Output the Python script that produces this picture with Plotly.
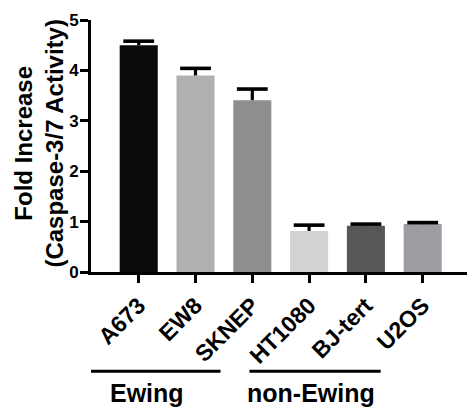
import plotly.graph_objects as go

cell_lines = ["A673", "EW8", "SKNEP", "HT1080", "BJ-tert", "U2OS"]
fold_increase = [4.50, 3.90, 3.41, 0.815, 0.92, 0.95]
error_sem = [0.08, 0.14, 0.22, 0.115, 0.03, 0.03]
bar_colors = ["#0a0c0c", "#b0b0b0", "#8e8e8c", "#d3d3d3", "#575757", "#9d9ca0"]
y_ticks = [0, 1, 2, 3, 4, 5]
groups = ["Ewing", "non-Ewing"]
group_spans = [(-0.88, 1.44), (1.95, 4.26)]
group_label_x = [0.14, 3.04]

FONT = "Liberation Sans, Arial, Helvetica, sans-serif"
idx = list(range(len(cell_lines)))
tops = [v + e for v, e in zip(fold_increase, error_sem)]

fig = go.Figure()
fig.add_trace(go.Bar(
    x=idx, y=fold_increase, width=0.67,
    marker=dict(color=bar_colors, line=dict(width=0)),
    error_y=dict(type="data", symmetric=False, array=error_sem,
                 arrayminus=[0] * len(idx), width=0, thickness=3.2, color="black"),
    showlegend=False,
))
fig.add_trace(go.Scatter(
    x=idx, y=tops, mode="markers",
    marker=dict(symbol="line-ew-open", size=22, color="black",
                line=dict(width=3.6, color="black")),
    showlegend=False, hoverinfo="skip",
))

for name, (x0, x1), lx in zip(groups, group_spans, group_label_x):
    fig.add_shape(type="line", xref="x", yref="paper", x0=x0, x1=x1,
                  y0=-0.394, y1=-0.394, line=dict(color="black", width=3))
    fig.add_annotation(text=name, xref="x", yref="paper", x=lx, y=-0.482,
                       showarrow=False, xanchor="center", yanchor="middle",
                       font=dict(family=FONT, size=25, color="black", weight="bold"))

fig.add_annotation(text="Fold Increase<br>(Caspase-3/7 Activity)", xref="paper", yref="paper",
                   x=-0.138, y=0.51, textangle=-90, showarrow=False,
                   xanchor="center", yanchor="middle",
                   font=dict(family=FONT, size=24, color="black", weight="bold"))

fig.update_layout(
    width=467, height=408,
    margin=dict(l=91, r=0, t=20, b=136, autoexpand=False),
    paper_bgcolor="white", plot_bgcolor="white",
    bargap=0.33,
    xaxis=dict(range=[-0.84, 5.78], tickmode="array", tickvals=idx, ticktext=cell_lines,
               tickangle=-45, ticks="outside", ticklen=8, tickwidth=3, tickcolor="black",
               showline=True, linecolor="black", linewidth=3, showgrid=False, zeroline=False,
               automargin=False,
               tickfont=dict(family=FONT, size=23, color="black", weight="bold")),
    yaxis=dict(range=[0, 5], tickvals=y_ticks, ticks="outside", ticklen=8, tickwidth=2.5,
               tickcolor="black", showline=True, linecolor="black", linewidth=3,
               showgrid=False, zeroline=False, automargin=False, ticklabelstandoff=-2,
               tickfont=dict(family=FONT, size=17, color="black", weight="bold")),
)

fig.write_html("out.html", config={"displayModeBar": False},
               post_script="document.body.style.margin='0';document.body.style.overflow='hidden';")
